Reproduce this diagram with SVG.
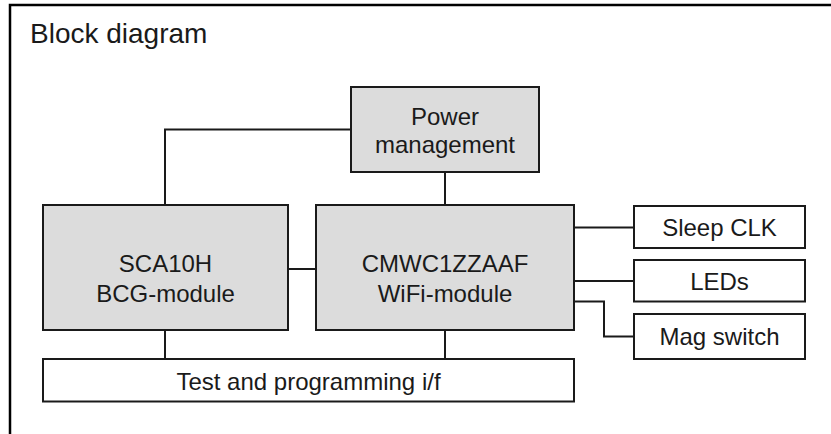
<svg xmlns="http://www.w3.org/2000/svg" width="831" height="434" viewBox="0 0 831 434">
<style>
.box{stroke:#1a1a1a;stroke-width:2;}
.g{fill:#dcdcdc;}
.w{fill:#ffffff;}
.t{font-family:"Liberation Sans",Arial,sans-serif;font-size:24px;fill:#1a1a1a;text-anchor:middle;}
.c{fill:none;stroke:#1a1a1a;stroke-width:2;}
</style>
<rect x="0" y="0" width="831" height="434" fill="#ffffff"/>
<rect x="10" y="5" width="840" height="450" fill="none" stroke="#000" stroke-width="2.5"/>
<text x="30" y="43" font-family="'Liberation Sans',Arial,sans-serif" font-size="28" fill="#1a1a1a">Block diagram</text>
<g id="connectors">
<polyline class="c" points="351,129.5 165,129.5 165,205"/>
<line class="c" x1="445" y1="172" x2="445" y2="205"/>
<line class="c" x1="288" y1="269" x2="316" y2="269"/>
<line class="c" x1="165" y1="330" x2="165" y2="359"/>
<line class="c" x1="445" y1="330" x2="445" y2="359"/>
<line class="c" x1="574" y1="227.5" x2="634" y2="227.5"/>
<line class="c" x1="574" y1="281" x2="634" y2="281"/>
<polyline class="c" points="574,301.5 604,301.5 604,336.5 634,336.5"/>
</g>
<g id="power">
<rect class="box g" x="351" y="87" width="188" height="85"/>
<text class="t" x="445" y="125">Power</text>
<text class="t" x="445" y="153">management</text>
</g>
<g id="sca10h">
<rect class="box g" x="43" y="205" width="245" height="125"/>
<text class="t" x="165.5" y="272">SCA10H</text>
<text class="t" x="165.5" y="302">BCG-module</text>
</g>
<g id="cmwc">
<rect class="box g" x="316" y="205" width="258" height="125"/>
<text class="t" x="445" y="272">CMWC1ZZAAF</text>
<text class="t" x="445" y="302">WiFi-module</text>
</g>
<g id="test">
<rect class="box w" x="43" y="359" width="531" height="42.5"/>
<text class="t" x="308.5" y="390">Test and programming i/f</text>
</g>
<g id="sleepclk">
<rect class="box w" x="634" y="206" width="171" height="42"/>
<text class="t" x="719.5" y="236">Sleep CLK</text>
</g>
<g id="leds">
<rect class="box w" x="634" y="260" width="171" height="41.5"/>
<text class="t" x="719.5" y="290">LEDs</text>
</g>
<g id="magswitch">
<rect class="box w" x="634" y="314" width="171" height="45"/>
<text class="t" x="719.5" y="345">Mag switch</text>
</g>
</svg>
